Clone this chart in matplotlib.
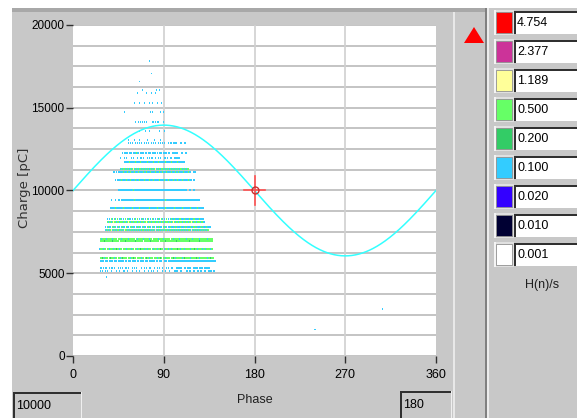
import matplotlib
matplotlib.use("Agg")
import matplotlib.pyplot as plt
import numpy as np
from matplotlib import font_manager
from matplotlib.patches import Rectangle, Polygon

# ---------------- data ----------------
x_ticks = [0, 90, 180, 270, 360]
y_ticks = [0, 5000, 10000, 15000, 20000]
legend_values = ["4.754", "2.377", "1.189", "0.500", "0.200", "0.100", "0.020", "0.010", "0.001"]
legend_colors = ["#ff0000", "#cc3399", "#ffff99", "#66ff66", "#33cc66", "#33ccff", "#3300ff", "#000033", "#ffffff"]
rate_colors = {"c": "#33ccff", "g": "#66ff66", "d": "#33cc66", "y": "#ffff99"}

# reference sine: offset / amplitude in pC
sine_offset = 10000
sine_amplitude = 3950
cursor_phase = 180
cursor_charge = 10000
left_box_text = "10000"
right_box_text = "180"

# PRPD rows: charge level [pC], start phase [deg], one char per degree ('.' = empty)
row_charge = [4770, 5140, 5320, 5740, 5920, 6470, 6950, 7070, 7610, 7800,
              8100, 8280, 8940, 9425, 10030, 10635, 11120, 11300, 11720, 11960,
              12270, 12870, 13050, 13600, 14140, 14740, 15290, 15890, 16070,
              16575, 17080, 17825, 1615, 2840]
row_start = [33, 27, 27, 27, 27, 26, 27, 27, 32, 32,
             34, 34, 37, 38, 45, 42, 40, 47, 51, 47,
             49, 55, 55, 66, 62, 51, 61, 64, 69,
             66, 78, 76, 240, 307]
row_pattern = [
    "c",
    "c.c..c.c...c....c..c...cc..c....c...c..c....c...c..c.c...c....c..c...c....c.c...c.....c..c...c...c..c...c...c.c..c",
    "cc.c.cc..c.cc.c...c.c.c..cc.c...c.c.c....c..c.c..cc...c..c.c..c...c.c..c....c.c.c...c..c.c...cc.c..c.c..c.c.c",
    "cccc.ccc.cccc.ccc.cccccc.cc.ccc.cccc.cc.cccc.ccc.cccccc.cc.ccc..ccc.cccc.cc.ccc.cccc.ccc.cc.cccc.ccc.cccccc.cc.cccc",
    "ggdgcggg.gdgggcgg.ggcgdgggg.ggcggdgg.ggggcgg.gdggcggg.gggcggdg.ggcgggg.ggdgcgg.gggcgdgg.ggcggg.gdggcgggg.ggcggdgg",
    "cgggcgg.ggcgggcggdggcgg.gggcggggcgg.ggcggdgggcggcggg.gcgggcggdgg.cgggcggcgg.ggdggcgggcgg.ggcgggdggcgg.gcggcggggcg",
    "ggggdgggggggdgggggg.gggggdgggggggggdggggggg.ggggggdgggggggg.gggggdggggggggggdggggggg.ggggdgggggggggdgggggggg.ggg",
    "gcggggcgggggcgggg.gggcggggggcgggggg.gcgggggcgggggcgg.gggggcggggcgggggg.ggcgggggcggggg.cgggggcggggggcggggg.gcgggg",
    "cgcgcgycgcgcggcgcgcyggcgcgcgcgcgcgcgcggcgcgcgcgcgcycgcgcgcgcggcgcgcgcgcgcgcgcgcgcgcggcycgcgcgcgcgcgcgcg",
    "c.cgcc.gcgc.cgc.cgcc.gcc.gcgcc.cgcgc.cgcc.gcgc.cgc.cgcgcc.gcgc.ccgc.cgcgc.cgc.cgcgcc.gccg.cgc.cgcgc.cgc.c",
    "gcggcgyggcggcgggcggcgygcggcgggcggcggcggygcggcgggcggcggcggcgggcggcgygcggcgggcggcggcggygcggcgggcggc",
    "c.c.gc.gc.g.cgc.c.g.cgcc.c.gc.g.c.cgc.c.gc.c.gc.c.cgc.gc.c.g.c.cgc.gc.c.g.cc.gc.c.gcc.g.c.c.gc.c",
    "cccccgcccccccgccccccccgccccccgcccccccccgcccccccgcccccccgccccccccgcccccccgcccccccgccccccgccccc",
    "c...c..cc.cccccccccccccgccccccccccccccccccccccccccccccgccccccccccccccccccccccccccccccccc",
    "cccccccccccccccgcccccccccccccccccccccccccccccccccccccccccccccccccccc...c...c",
    "c.ccccgccccgcccgccccgcccgccccgccccgcccgcccccgccccgcccgccccgcccgccccgcccccgcc..c",
    "cc.c.cccccgcccgccgcccgcccgccccgccgcccgccccgcccgccgcccgccccgcccgccgccccgccccgc...cc",
    "cgcggcgcgcgcgycgcgcggcgcgcgcgcgcgcgycgcgcggcgcgcgcgcgcgcgcgcggcgcgcg",
    "cccccgcccccgccccgccccccgcccccgccccgccccccgcccccgcccccgcccccc",
    "c...c.c....c.c...c..cc.c...c.c.cc..c..c.c...cc.c..c...c.c.c",
    "c.cccc.ccc.cccgcc.cccc.cc.ccc.cccc.c.ccc.cccc.cc..c.ccc....c...c",
    "c.c.c..c.c.c.c..c.c.c..c.c.c..c.c.c.c...c.c..c.c....c...c",
    "c.....c....c.......c......c.....c",
    "c.....c...c.........c....c",
    "c..c.c.c.c.c.....cc.c.cc....c",
    "c.........................c.c.......c..c",
    "c....c....c....c..c....c...c",
    "c........c....c...c",
    "c.............c..c",
    "c",
    "c",
    "c",
    "c",
    "c",
]

# ---------------- fonts ----------------
avail = {f.name for f in font_manager.fontManager.ttflist}
narrow = "Liberation Sans Narrow" if "Liberation Sans Narrow" in avail else "Liberation Sans"
plt.rcParams["font.family"] = [narrow, "DejaVu Sans"]
fs = 10 if narrow == "Liberation Sans Narrow" else 8.5

W, H = 577, 418
fig = plt.figure(figsize=(W / 100, H / 100), dpi=100, facecolor="#c8c8c8")


def fx(x):
    return x / W


def fy(y):
    return 1 - y / H


def prect(x0, y0, x1, y1, **kw):
    fig.patches.append(Rectangle((fx(x0), fy(y1)), fx(x1) - fx(x0), fy(y0) - fy(y1),
                                 transform=fig.transFigure, **kw))


# outer decoration
prect(0, 0, W, 8, facecolor="white", edgecolor="none")
prect(0, 0, 12, H, facecolor="white", edgecolor="none")
prect(12, 8, 486, 12, facecolor="#a8a8a8", edgecolor="none")
prect(453, 12, 454.5, H, facecolor="#e8e8e8", edgecolor="none")
prect(485, 8, 487, H, facecolor="#808080", edgecolor="none")
prect(487, 8, 488.5, H, facecolor="#ececec", edgecolor="none")

# red triangle
fig.patches.append(Polygon([(fx(464), fy(43)), (fx(484), fy(43)), (fx(474), fy(27))],
                           closed=True, transform=fig.transFigure,
                           facecolor="#ff0000", edgecolor="none"))

# legend column
for i, (val, col) in enumerate(zip(legend_values, legend_colors)):
    top = 11 + 29 * i
    prect(494, top - 1, 514, top + 24, facecolor="#e0e0e0", edgecolor="none")
    prect(494, top - 1, 496, top + 24, facecolor="#f4f4f4", edgecolor="none")
    prect(496, top + 1, 512, top + 22, facecolor=col, edgecolor="#909090", linewidth=0.6)
    prect(514, top, W, top + 23, facecolor="white", edgecolor="none")
    prect(514, top, W, top + 2, facecolor="#303030", edgecolor="none")
    prect(514, top, 516, top + 23, facecolor="#303030", edgecolor="none")
    fig.text(fx(517), fy(top + 12), val, fontsize=fs + 0.5, ha="left", va="center", color="black")
fig.text(fx(542), fy(285), "H(n)/s", fontsize=fs + 0.5, ha="center", va="center", color="#202020")

# bottom boxes
for (x0, x1, y0, txt) in [(13, 82, 392, left_box_text), (400, 452, 391, right_box_text)]:
    prect(x0, y0, x1, H, facecolor="#c8c8c8", edgecolor="none")
    prect(x0, y0, x1, y0 + 2, facecolor="#303030", edgecolor="none")
    prect(x0, y0, x0 + 2, H, facecolor="#303030", edgecolor="none")
    prect(x1 - 1.5, y0, x1, H, facecolor="#efefef", edgecolor="none")
    fig.text(fx(x0 + 3), fy(y0 + 14), txt, fontsize=fs + 0.5, ha="left", va="center", color="black")

# ---------------- main plot ----------------
ax = fig.add_axes([fx(73), fy(356), fx(436) - fx(73), fy(25) - fy(356)])
ax.set_facecolor("white")
ax.set_xlim(0, 360)
ax.set_ylim(0, 20000)
for s in ax.spines.values():
    s.set_visible(False)

for q in np.arange(0, 20001, 1250):
    ax.axhline(q, color="#c4c4c4", lw=1.4, zorder=1)
for p in x_ticks[1:-1]:
    ax.axvline(p, color="#d0d0d0", lw=1.2, zorder=1)

# PRPD dots
px, py, pc = [], [], []
for q, start, pat in zip(row_charge, row_start, row_pattern):
    for k, ch in enumerate(pat):
        if ch in rate_colors:
            px.append(start + k)
            py.append(q)
            pc.append(rate_colors[ch])
ax.scatter(px, py, c=pc, s=1.0, marker="s", linewidths=0, zorder=3)

# reference sine
ph = np.linspace(0, 360, 721)
ax.plot(ph, sine_offset + sine_amplitude * np.sin(np.radians(ph)), color="#33ffff", lw=1.1, zorder=4)

# cursor
ax.plot([cursor_phase - 10, cursor_phase + 10], [cursor_charge, cursor_charge], color="#ff5050", lw=1.2, zorder=5)
ax.plot([cursor_phase, cursor_phase], [cursor_charge - 900, cursor_charge + 900], color="#ff5050", lw=1.2, zorder=5)
ax.plot([cursor_phase], [cursor_charge], marker="o", ms=5, mfc="none", mec="#cc3030", mew=1.0, zorder=6)

ax.set_xticks(x_ticks)
ax.set_xticklabels([str(v) for v in x_ticks])
ax.set_yticks(y_ticks)
ax.set_yticklabels([str(v) for v in y_ticks])
ax.tick_params(axis="x", direction="out", length=5, width=1, color="#303030", pad=4, labelsize=fs + 0.5)
ax.tick_params(axis="y", direction="out", length=5, width=1, color="#303030", pad=1, labelsize=fs)

fig.text(fx(255), fy(400), "Phase", fontsize=fs + 0.5, ha="center", va="center", color="#202020")
fig.text(fx(25), fy(188), "Charge [pC]", fontsize=9.5, ha="center", va="center", rotation=90,
         color="#303030", family=["DejaVu Sans"])

fig.savefig("out.png", dpi=100, facecolor=fig.get_facecolor())
